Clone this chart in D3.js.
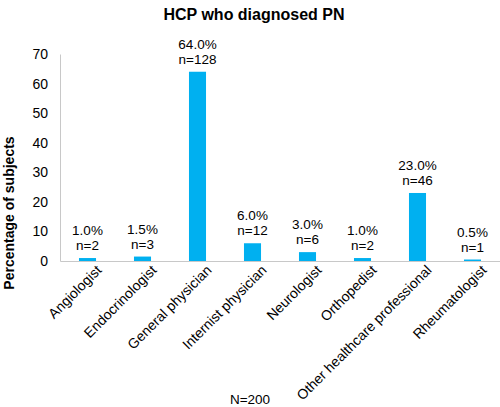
<!DOCTYPE html>
<html>
<head>
<meta charset="utf-8">
<script src="https://cdn.jsdelivr.net/npm/d3@7"></script>
<style>
  body { margin: 0; background: #fff; }
  svg { font-family: "Liberation Sans", Arial, sans-serif; }
</style>
</head>
<body>
<svg width="500" height="407"></svg>
<script>
const categories = ["Angiologist", "Endocrinologist", "General physician", "Internist physician",
                    "Neurologist", "Orthopedist", "Other healthcare professional", "Rheumatologist"];
const percents = [1.0, 1.5, 64.0, 6.0, 3.0, 1.0, 23.0, 0.5];
const counts = [2, 3, 128, 12, 6, 2, 46, 1];
const yTicks = [0, 10, 20, 30, 40, 50, 60, 70];

const width = 500, height = 407;
const margin = {top: 54, right: 0, bottom: 146, left: 60};
const plotW = width - margin.left - margin.right,
      plotH = height - margin.top - margin.bottom;

const data = categories.map((c, i) => ({cat: c, pct: percents[i], n: counts[i]}));

const svg = d3.select("svg");

// title
svg.append("text")
    .attr("x", 254)
    .attr("y", 20)
    .attr("text-anchor", "middle")
    .attr("font-size", "16px")
    .attr("font-weight", "bold")
    .text("HCP who diagnosed PN");

const g = svg.append("g")
    .attr("transform", `translate(${margin.left}, ${margin.top})`);

const x = d3.scaleBand()
    .domain(categories)
    .range([0, plotW])
    .paddingInner(0.69)
    .paddingOuter(0.345);

const y = d3.scaleLinear()
    .domain([0, 70])
    .range([plotH, 0]);

// y axis
const yAxis = g.append("g")
    .call(d3.axisLeft(y).tickValues(yTicks).tickSize(0).tickPadding(12));
yAxis.select(".domain").attr("stroke", "#c8c8c8");
yAxis.selectAll("text")
    .attr("font-size", "14px")
    .attr("fill", "#000");

// x axis
const xAxis = g.append("g")
    .attr("transform", `translate(0, ${plotH})`)
    .call(d3.axisBottom(x).tickSize(0).tickPadding(10));
xAxis.select(".domain").attr("stroke", "#c8c8c8");
xAxis.selectAll("text")
    .attr("font-size", "14px")
    .attr("fill", "#000")
    .attr("text-anchor", "end")
    .attr("dx", "0.25em")
    .attr("dy", "0.55em")
    .attr("transform", "rotate(-45)");

// bars
g.selectAll("rect.bar")
    .data(data)
    .enter().append("rect")
    .attr("class", "bar")
    .attr("x", d => x(d.cat))
    .attr("y", d => y(d.pct))
    .attr("width", x.bandwidth())
    .attr("height", d => plotH - y(d.pct))
    .attr("fill", "#00b0f0");

// value labels
const labels = g.selectAll("g.lbl")
    .data(data)
    .enter().append("g")
    .attr("class", "lbl")
    .attr("transform", d => `translate(${x(d.cat) + x.bandwidth() / 2}, ${y(d.pct) - 8})`);

labels.append("text")
    .attr("y", -15)
    .attr("text-anchor", "middle")
    .attr("font-size", "13.5px")
    .text(d => d.pct.toFixed(1) + "%");

labels.append("text")
    .attr("text-anchor", "middle")
    .attr("font-size", "13.5px")
    .text(d => "n=" + d.n);

// y axis title
svg.append("text")
    .attr("transform", "translate(14, 213) rotate(-90)")
    .attr("text-anchor", "middle")
    .attr("font-size", "14px")
    .attr("font-weight", "bold")
    .text("Percentage of subjects");

// footnote
svg.append("text")
    .attr("x", 250)
    .attr("y", 404)
    .attr("text-anchor", "middle")
    .attr("font-size", "13.5px")
    .text("N=200");
</script>
</body>
</html>
